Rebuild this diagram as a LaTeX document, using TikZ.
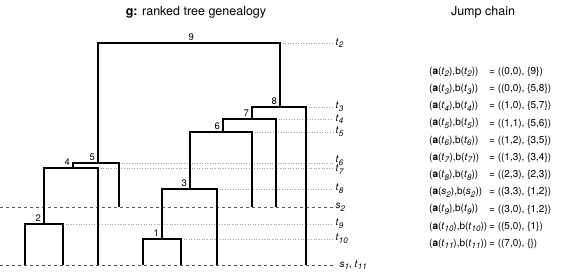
\documentclass[tikz,border=0pt]{standalone}
\usepackage{fontspec}
\setmainfont{TeX Gyre Heros}
\newcommand{\tv}[2]{\textit{#1}\raisebox{-0.5ex}{\footnotesize\textit{#2}}}
\begin{document}
\begin{tikzpicture}[x=1pt, y=-1pt,
  branch/.style={line width=1.3pt},
  guide/.style={gray!70, dotted, line width=0.6pt},
  level/.style={black!65, dashed, line width=0.6pt},
  rank/.style={anchor=south east, inner sep=2pt, xshift=-1pt, font=\fontsize{9.5}{10}\selectfont},
  tlab/.style={anchor=west, inner sep=2.5pt, font=\fontsize{10}{10}\selectfont},
  row/.style={anchor=west, inner sep=0pt, font=\fontsize{10}{10}\selectfont}]
  \useasboundingbox (0,0) rectangle (565,277);
  % titles
  \node[font=\fontsize{12.5}{13}\selectfont] (gtitle) at (196,12) {\textbf{g:} ranked tree genealogy};
  \node[font=\fontsize{12.5}{13}\selectfont] (jtitle) at (483,12) {Jump chain};
  % leaves, on s1 and on s2
  \foreach \n/\x in {a/25, b/63, c/98, d/143, e/181, f/217, g/306}
    \coordinate (\n) at (\x,265);
  \foreach \n/\x in {h/119, i/252, j/276}
    \coordinate (\n) at (\x,207);
  % internal nodes: x of the line up, y of the bar
  \foreach \k/\x/\y in {1/162/239, 2/44/224, 3/190/189, 4/73/168, 5/98/163,
                        6/223/132, 7/252/119, 8/280/107, 9/197/43}
    \coordinate (n\k) at (\x,\y);
  \coordinate (lim) at (0,0);
  \coordinate (rim) at (333,0);
  % sampling levels
  \node[tlab] (s2lab) at (h -| rim) {\tv{s}{2}};
  \draw[level] (h -| lim) -- (s2lab.west);
  \node[tlab, xshift=4pt] (s1lab) at (a -| rim) {\tv{s}{1}, \tv{t}{11}};
  \draw[level] (a -| lim) -- (s1lab.west -| rim);
  % event times (t6 and t7 nudged apart)
  \foreach \k/\c/\t/\dy in {9/n8/2/0, 8/g/3/0, 7/j/4/0, 6/i/5/0, 5/h/6/2,
                            4/c/7/-1.5, 3/f/8/0, 2/b/9/0, 1/e/10/0} {
    \node[tlab, yshift=\dy pt] (t\t) at (n\k -| rim) {\tv{t}{\t}};
    \draw[guide] (\c |- n\k) -- (t\t.west |- n\k);
  }
  % the tree
  \foreach \k/\l/\r in {1/d/e, 2/a/b, 3/n1/f, 4/n2/c, 5/n4/h,
                        6/n3/i, 7/n6/j, 8/n7/g, 9/n5/n8} {
    \draw[branch] (\l) -- (\l |- n\k) -- (\r |- n\k) -- (\r);
    \node[rank] (r\k) at (n\k) {\k};
  }
  % jump chain
  \foreach \v/\s/\p/\q [count=\i] in {t/2/{0,0}/{9}, t/3/{0,0}/{5,8}, t/4/{1,0}/{5,7},
      t/5/{1,1}/{5,6}, t/6/{1,2}/{3,5}, t/7/{1,3}/{3,4}, t/8/{2,3}/{2,3},
      s/2/{3,3}/{1,2}, t/9/{3,0}/{1,2}, t/10/{5,0}/{1}, t/11/{7,0}/{}} {
    \node[row] (ab\i) at (429,{72+17.2*(\i-1)}) {(\textbf{a}(\tv{\v}{\s}),b(\tv{\v}{\s}))};
    \node[row] (eq\i) at (489,{72+17.2*(\i-1)}) {= ((\p), \{\q\})};
  }
\end{tikzpicture}
\end{document}
